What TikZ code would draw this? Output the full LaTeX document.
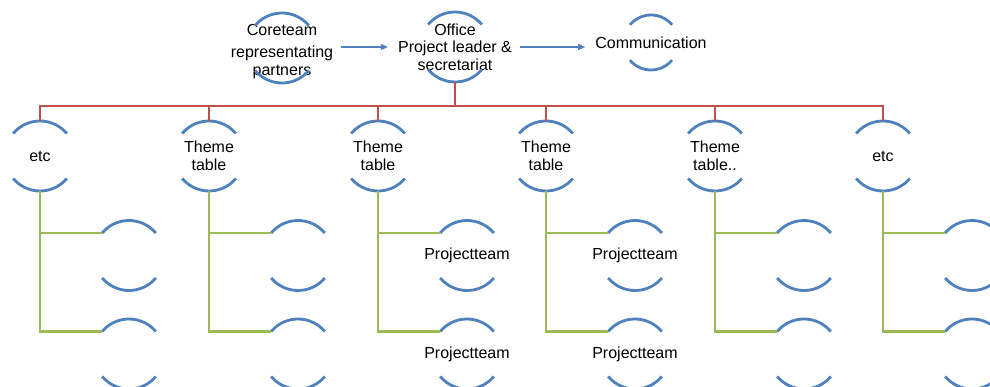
\documentclass[tikz,border=0pt]{standalone}
\usepackage{fontspec}
\setmainfont{Liberation Sans}
\usetikzlibrary{arrows.meta}
\definecolor{ringblue}{HTML}{4F81BD}
\definecolor{busred}{HTML}{C0504D}
\definecolor{branchgreen}{HTML}{9BBB59}
\tikzset{
  ring/.style={circle, minimum size=70pt, inner sep=0pt, outer sep=0pt},
  smallring/.style={circle, minimum size=55pt, inner sep=0pt, outer sep=0pt},
  ringarc/.style={ringblue, line width=2.8pt},
  boxtext/.style={align=center, font=\fontsize{16pt}{17.5pt}\selectfont, inner sep=3pt},
  bus/.style={busred, line width=2.7pt},
  branch/.style={branchgreen, line width=2.7pt},
  flow/.style={ringblue, line width=1.4pt, -{Triangle[length=7pt,width=6pt]}, shorten <=5pt, shorten >=7pt},
}
\begin{document}
\begin{tikzpicture}[x=1pt,y=1pt]
    \useasboundingbox (0,0) rectangle (990,-387);
    \clip (0,0) rectangle (990,-387);
    % top row
    \node[ring] (core) at (282,-48) {};
    \node[ring] (office) at (455,-47) {};
    \node[smallring] (comm) at (651,-42.5) {};
    \node[boxtext] (core-t) at ([yshift=-3.5pt]core.center) {Coreteam\\[5pt]representating\\partners};
    \node[boxtext] (office-t) at (office) {Office\\Project leader \&\\secretariat};
    \node[boxtext] (comm-t) at (comm) {Communication};
    % theme tables and their teams
    \foreach \i/\x in {1/40,2/209,3/378,4/546,5/715,6/883} {
        \node[ring] (t\i) at (\x,-156) {};
        \node[ring] (t\i a) at (\x+89,-255.5) {};
        \node[ring] (t\i b) at (\x+89,-354) {};
    }
    \node[boxtext] (t1-t) at (t1) {etc};
    \node[boxtext] (t2-t) at (t2) {Theme\\table};
    \node[boxtext] (t3-t) at (t3) {Theme\\table};
    \node[boxtext] (t4-t) at (t4) {Theme\\table};
    \node[boxtext] (t5-t) at (t5) {Theme\\table..};
    \node[boxtext] (t6-t) at (t6) {etc};
    \node[boxtext] (t3a-t) at (t3a) {Projectteam};
    \node[boxtext] (t3b-t) at (t3b) {Projectteam};
    \node[boxtext] (t4a-t) at (t4a) {Projectteam};
    \node[boxtext] (t4b-t) at (t4b) {Projectteam};
    % broken rings
    \foreach \n/\r in {core/35,office/35,comm/27.5,t1/35,t2/35,t3/35,t4/35,t5/35,t6/35,
        t1a/35,t2a/35,t3a/35,t4a/35,t5a/35,t6a/35,t1b/35,t2b/35,t3b/35,t4b/35,t5b/35,t6b/35}
        \draw[ringarc] (\n.40) arc[start angle=40, end angle=140, radius=\r]
            (\n.220) arc[start angle=220, end angle=320, radius=\r];
    % arrows
    \draw[flow] (core-t.east |- office-t.west) -- (office-t.west);
    \draw[flow] (office-t.east) -- (office-t.east -| comm-t.west);
    % red bus
    \draw[bus] (office.south) -- ++(0,-24) coordinate (bus);
    \foreach \i in {1,...,6}
        \draw[bus] (bus) -| (t\i.north);
    % green branches
    \foreach \i in {1,...,6} {
        \draw[branch] (t\i.south) |- (t\i a.140);
        \draw[branch] (t\i.south) |- (t\i b.140);
    }
\end{tikzpicture}
\end{document}
